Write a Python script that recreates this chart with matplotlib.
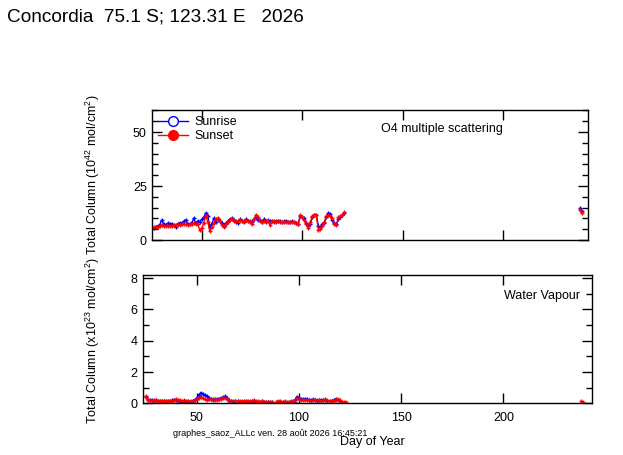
import matplotlib
matplotlib.use("Agg")
import matplotlib.pyplot as plt
from matplotlib.lines import Line2D
from matplotlib.ticker import MultipleLocator

plt.rcParams['font.family'] = ['Liberation Sans', 'DejaVu Sans']
plt.rcParams['mathtext.fontset'] = 'custom'
plt.rcParams['mathtext.rm'] = 'Liberation Sans'
plt.rcParams['mathtext.it'] = 'Liberation Sans'

# ---------------- data ----------------
o4_days = list(range(26, 122))
o4_sunset = [5.9, 6.0, 6.2, 6.4, 6.8, 6.6, 6.5, 6.7, 6.4, 6.6, 6.9, 7.1, 7.3, 7.0, 7.3, 7.5,
             7.2, 7.0, 7.4, 7.6, 7.8, 7.5, 7.2, 4.7, 5.4, 8.0, 11.2, 8.5, 4.0, 6.0, 7.8, 9.8,
             10.2, 8.6, 7.0, 5.9, 7.2, 8.5, 9.2, 9.7, 9.0, 8.6, 8.8, 9.3, 8.7, 8.9, 9.4, 8.8,
             8.5, 7.4, 9.5, 11.8, 10.5, 8.8, 8.5, 9.0, 8.6, 8.8, 6.8, 8.6, 8.7, 8.5, 8.6, 8.4,
             8.5, 8.5, 8.3, 8.4, 8.5, 8.3, 8.2, 8.0, 7.6, 11.5, 10.6, 9.2, 7.3, 5.4, 8.2, 11.0,
             11.8, 11.4, 4.6, 5.2, 6.7, 8.5, 11.0, 11.6, 11.0, 10.2, 7.4, 7.0, 10.6, 11.0, 11.4, 12.8]
o4_sunrise = [5.6, 6.2, 6.5, 6.8, 9.2, 7.5, 7.0, 7.7, 7.2, 7.6, 6.8, 6.2, 7.5, 8.0, 7.8, 8.6,
              9.3, 7.4, 7.2, 7.9, 10.0, 7.7, 8.8, 8.5, 9.5, 10.5, 12.4, 11.0, 6.2, 7.5, 10.0, 8.4,
              9.8, 9.0, 7.8, 6.6, 7.8, 8.8, 9.6, 10.0, 9.2, 8.3, 7.9, 9.5, 8.9, 8.3, 9.7, 9.0,
              8.6, 8.2, 9.8, 10.8, 9.3, 9.2, 8.3, 9.5, 8.4, 9.1, 8.7, 8.8, 8.5, 8.9, 8.6, 8.7,
              8.4, 8.6, 8.8, 8.5, 8.4, 8.6, 8.3, 8.1, 7.3, 11.0, 10.8, 10.0, 8.0, 6.3, 7.5, 10.5,
              11.5, 11.8, 6.5, 5.8, 7.5, 8.0, 10.6, 12.4, 12.0, 9.2, 7.8, 7.2, 9.8, 10.5, 11.6, 12.3]
o4_late_days = [238, 239]
o4_late_sunrise = [14.6, 13.6]
o4_late_sunset = [14.0, 12.6]

h2o_days = list(range(25, 124))
h2o_sunset = [0.45, 0.22, 0.20, 0.18, 0.20, 0.20, 0.18, 0.15, 0.18, 0.16, 0.14, 0.15, 0.15, 0.18,
              0.22, 0.28, 0.25, 0.20, 0.16, 0.20, 0.18, 0.15, 0.16, 0.15, 0.20, 0.27, 0.32, 0.42,
              0.35, 0.27, 0.25, 0.28, 0.26, 0.27, 0.25, 0.24, 0.26, 0.30, 0.33, 0.35, 0.30, 0.20,
              0.16, 0.15, 0.14, 0.15, 0.14, 0.15, 0.13, 0.14, 0.15, 0.14, 0.16, 0.20, 0.15, 0.13,
              0.12, 0.14, 0.10, 0.12, 0.10, 0.08, 0.10, None, 0.12, 0.18, 0.14, 0.12, 0.13, 0.10,
              0.12, 0.14, 0.16, 0.12, 0.33, 0.28, 0.25, 0.22, 0.24, 0.20, 0.22, 0.18, 0.20, 0.24,
              0.22, 0.20, 0.18, 0.22, 0.26, 0.20, 0.16, 0.14, 0.18, 0.25, 0.30, 0.22, 0.12, 0.10, 0.10]
h2o_sunrise = [0.43, 0.25, 0.20, 0.22, 0.18, 0.20, 0.16, 0.17, 0.14, 0.18, 0.15, 0.13, 0.16, 0.20,
               0.25, 0.22, 0.18, 0.15, 0.12, 0.17, 0.10, 0.14, 0.12, 0.18, 0.25, 0.33, 0.55, 0.69,
               0.62, 0.52, 0.45, 0.35, 0.28, 0.25, 0.27, 0.26, 0.30, 0.35, 0.40, 0.45, 0.32, 0.18,
               0.14, 0.12, 0.13, 0.14, 0.12, 0.10, 0.12, 0.14, 0.12, 0.10, 0.14, 0.12, 0.11, 0.12,
               0.10, 0.13, 0.12, 0.09, 0.11, 0.10, 0.08, None, 0.06, 0.12, 0.10, 0.08, 0.12, 0.06,
               0.10, 0.12, 0.14, 0.20, 0.44, 0.35, 0.30, 0.26, 0.30, 0.28, 0.24, 0.22, 0.26, 0.20,
               0.18, 0.22, 0.24, 0.20, 0.22, 0.16, 0.14, 0.18, 0.22, 0.30, 0.24, 0.15, None, None, None]
h2o_late_days = [238, 239]
h2o_late_sunset = [0.14, 0.10]

title = "Concordia  75.1 S; 123.31 E   2026"
footer = "graphes_saoz_ALLc ven. 28 ao\u00fbt 2026 16:45:21"

BLUE = "#0000ff"
RED = "#ff0000"

fig = plt.figure(figsize=(6.23, 4.55), dpi=100)
ax1 = fig.add_axes([0.2435, 0.4725, 0.7008, 0.2857])
ax2 = fig.add_axes([0.229, 0.1132, 0.7207, 0.2824])


def clean(d, v):
    dd, vv = [], []
    for a, b in zip(d, v):
        dd.append(a)
        vv.append(float('nan') if b is None else b)
    return dd, vv


def draw(ax, days, vals, color):
    d, v = clean(days, vals)
    ax.plot(d, v, color=color, lw=1.0, marker='+', ms=3.2, mew=1.0)


draw(ax1, o4_days, o4_sunrise, BLUE)
draw(ax1, o4_days, o4_sunset, RED)
draw(ax1, o4_late_days, o4_late_sunrise, BLUE)
draw(ax1, o4_late_days, o4_late_sunset, RED)

draw(ax2, h2o_days, h2o_sunrise, BLUE)
draw(ax2, h2o_days, h2o_sunset, RED)
draw(ax2, h2o_late_days, h2o_late_sunset, RED)

ax1.set_xlim(25.1, 242.3)
ax1.set_ylim(0, 60.2)
ax2.set_xlim(23.6, 243.2)
ax2.set_ylim(0, 8.2)

for ax in (ax1, ax2):
    ax.xaxis.set_major_locator(MultipleLocator(50))
    for s in ax.spines.values():
        s.set_linewidth(1.0)
    ax.tick_params(which='both', direction='in', top=True, right=True,
                   labelsize=9, width=1.0, colors='black')
    ax.tick_params(which='major', length=7)
    ax.tick_params(which='minor', length=4.5)
    ax.tick_params(axis='y', pad=3.5)
    ax.tick_params(axis='x', pad=6)

ax1.yaxis.set_major_locator(MultipleLocator(25))
ax1.yaxis.set_minor_locator(MultipleLocator(5))
ax1.tick_params(axis='x', labelbottom=False)
ax2.yaxis.set_major_locator(MultipleLocator(2))
ax2.yaxis.set_minor_locator(MultipleLocator(1))

handles = [Line2D([], [], color=BLUE, lw=1.0, marker='o', ms=7, mfc='white', mec=BLUE),
           Line2D([], [], color=RED, lw=1.0, marker='o', ms=7, mfc=RED, mec=RED)]
ax1.legend(handles, ["Sunrise", "Sunset"], loc='upper left', frameon=False, fontsize=9,
           handlelength=2.4, handletextpad=0.5, labelspacing=0.15, borderaxespad=0.2,
           borderpad=0.3)

ax1.text(0.525, 0.854, "O4 multiple scattering", transform=ax1.transAxes, fontsize=9,
         ha='left', va='center')
ax2.text(0.974, 0.837, "Water Vapour", transform=ax2.transAxes, fontsize=9,
         ha='right', va='center')

fig.text(0.011, 0.9626, title, fontsize=13.7, ha='left', va='center')
fig.text(93 / 623, 1 - 175 / 455, r"Total Column (10$^{42}$ mol/cm$^{2}$)", rotation=90,
         fontsize=9, ha='center', va='center')
fig.text(93 / 623, 1 - 341 / 455, r"Total Column (x10$^{23}$ mol/cm$^{2}$)", rotation=90,
         fontsize=9, ha='center', va='center')
fig.text(173 / 623, 1 - 433 / 455, footer, fontsize=6.5, ha='left', va='center')
fig.text(372 / 623, 1 - 442 / 455, "Day of Year", fontsize=9, ha='center', va='center')

fig.savefig("out.png", dpi=100)
